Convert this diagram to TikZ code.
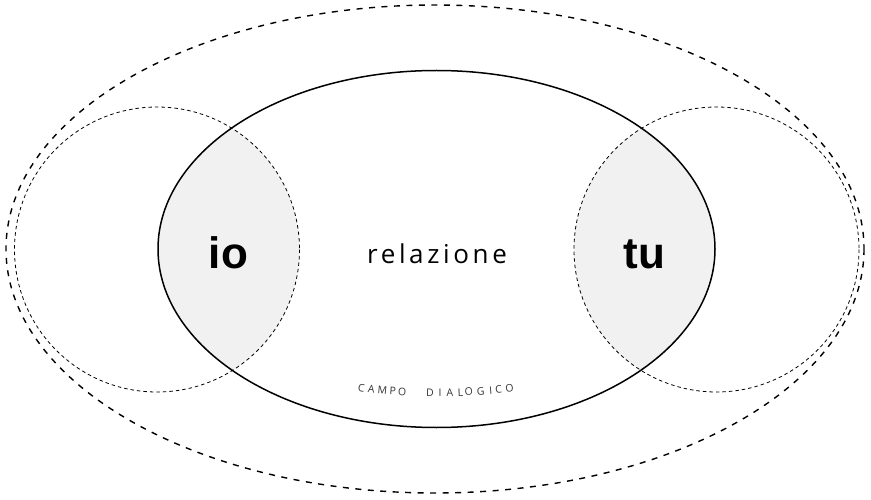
\documentclass[tikz,border=0pt]{standalone}
\usepackage{fontspec}
\setmainfont{Liberation Sans}
\newfontfamily\relfont[LetterSpace=14]{Open Sans}
\newfontfamily\smallfont{Open Sans}
\definecolor{lensgray}{HTML}{F1F1F1}
\tikzset{
  outerdash/.style={line width=1.4pt, dash pattern=on 6pt off 6.5pt},
  innerdot/.style={line width=0.8pt, dash pattern=on 3.5pt off 3pt},
  field/.style={line width=1.5pt},
  bigword/.style={font=\fontsize{44}{44}\selectfont\bfseries, anchor=base, inner sep=0pt},
  midword/.style={font=\fontsize{26}{26}\relfont, anchor=base, inner sep=0pt},
  tinyletter/.style={font=\fontsize{10.5}{10.5}\smallfont, anchor=base, inner sep=0pt, text=black!80}
}
\begin{document}
\begin{tikzpicture}[x=1pt,y=-1pt]
\useasboundingbox (0,0) rectangle (871,500);
% shaded lenses
\begin{scope}
  \clip (436.5,249) ellipse [x radius=278.5, y radius=178.5];
  \fill[lensgray] (157,249.5) circle [radius=142.5];
  \fill[lensgray] (716.5,249.5) circle [radius=142.5];
\end{scope}
% outer dashed field
\draw[outerdash] (435,249) ellipse [x radius=429, y radius=244];
% dotted circles
\draw[innerdot] (157,249.5) circle [radius=142.5];
\draw[innerdot] (716.5,249.5) circle [radius=142.5];
% solid relation ellipse
\draw[field] (436.5,249) ellipse [x radius=278.5, y radius=178.5];
% words
\node[bigword] (io) at (228.5,268) {io};
\node[bigword] (tu) at (644.5,268) {tu};
\node[midword] (rel) at (437,263) {relazione};
% curved caption
\foreach \xx/\ch [count=\k] in {361/C,371/A,382/M,392.5/P,402/O,430/D,440/I,450/A,460.5/L,469/O,481/G,491/I,499/C,510/O}{
  \pgfmathsetmacro\yb{392+4.5*(1-((\xx-436)/75)^2)}
  \pgfmathsetmacro\ang{atan(9*(\xx-436)/5625)}
  \node[tinyletter, rotate=\ang] (cap\k) at (\xx,\yb) {\ch};
}
\end{tikzpicture}
\end{document}
